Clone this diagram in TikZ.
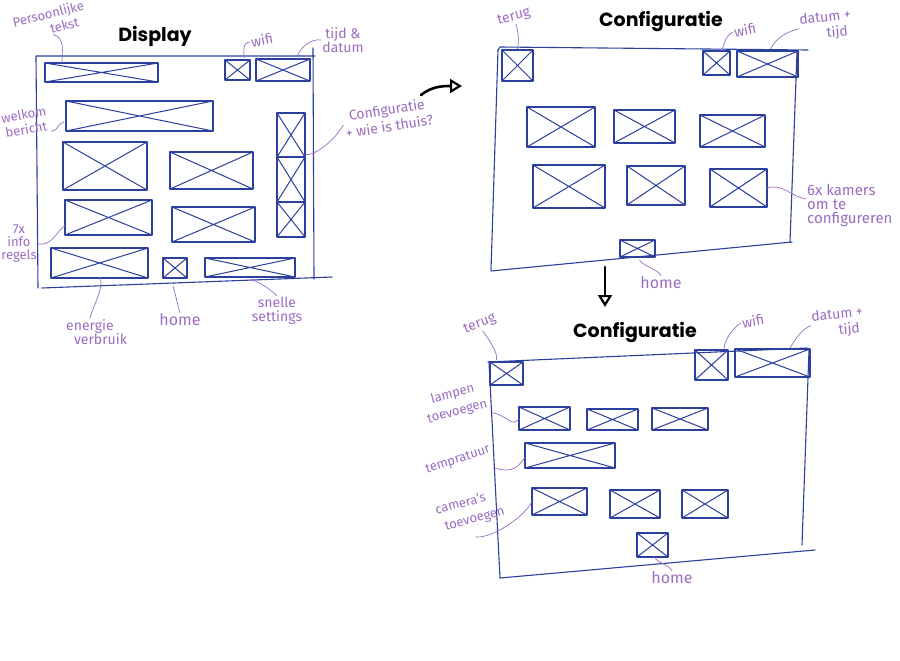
\documentclass[tikz,border=0pt]{standalone}
\usepackage{fontspec}
\setmainfont{Fira Sans}
\newfontfamily\titlefont{Poppins}
\usetikzlibrary{fit,arrows.meta,calc}
\definecolor{ink}{HTML}{2B3F9E}
\definecolor{lbl}{HTML}{9B6CC2}
\tikzset{
 sk/.style={draw=ink, line width=1.1pt, line cap=round, line join=round},
 xbox/.style={sk, rectangle, inner sep=0pt, outer sep=0pt,
   path picture={\draw[ink, line width=1pt] (path picture bounding box.south west) -- (path picture bounding box.north east) (path picture bounding box.north west) -- (path picture bounding box.south east);}},
 lab/.style={text=lbl, font=\fontsize{14}{14}\selectfont, align=center, inner sep=1pt},
 lead/.style={draw=lbl, line width=0.7pt},
 ttl/.style={font=\titlefont\bfseries\fontsize{19}{19}\selectfont, text=black},
 bigarrow/.style={draw=black, line width=2.6pt, line cap=round, -{Triangle[open,length=12pt,width=14pt,line width=2.2pt]}}
}
\newcommand\wfbox[5]{\node[xbox, fit={(#2,#3) (#4,#5)}] (#1) {};}
\begin{document}
\begin{tikzpicture}[x=1pt,y=-1pt]
\fill[white] (0,0) rectangle (900,661);
\useasboundingbox (0,0) rectangle (900,661);

% ---------------- Display ----------------
\node[ttl] (tdisp) at (155,36) {Display};
\draw[sk] (38,288) -- (36,56) -- (315,56);
\draw[sk] (313,48) -- (314,279);
\draw[sk] (42,288) -- (332,277);
\wfbox{dpt}{45}{63}{158}{82}
\wfbox{dwifi}{225}{60}{250}{80}
\wfbox{dtime}{256}{59}{310}{81}
\wfbox{dwel}{66}{101}{213}{131}
\wfbox{dra}{63}{142}{147}{190}
\wfbox{drb}{170}{152}{253}{189}
\wfbox{drc}{65}{200}{152}{235}
\wfbox{drd}{172}{207}{255}{242}
\wfbox{den}{51}{248}{148}{278}
\wfbox{dhome}{163}{258}{187}{278}
\wfbox{dset}{205}{258}{295}{277}
\wfbox{dca}{277}{113}{305}{157}
\wfbox{dcb}{277}{157}{305}{202}
\wfbox{dcc}{277}{202}{305}{237}

\node[lab, font=\fontsize{13}{15}\selectfont, rotate=14] (lpt) at (50,21) {Persoonlijke\\\hspace*{2em}tekst};
\draw[lead] (lpt.south) .. controls +(12,4) and +(0,-12) .. ($(dpt.north west)+(17,0)$);
\node[lab, rotate=10] (lwifi) at (262,40) {wifi};
\draw[lead] (lwifi.west) .. controls +(-8,0) and +(0,-6) .. ($(dwifi.north east)+(-6,-2)$);
\node[lab] (ltime) at (343,40) {tijd \&\\datum};
\draw[lead] (ltime.west) .. controls +(-10,-2) and +(0,-8) .. ($(dtime.north east)+(-12,-2)$);
\node[lab, font=\fontsize{13}{15}\selectfont, rotate=10] (lwel) at (25,122) {welkom\\bericht};
\draw[lead] (lwel.south east) .. controls +(10,-2) and +(-10,4) .. ($(dwel.west)+(-2,6)$);
\node[lab, font=\fontsize{14}{17}\selectfont, rotate=9] (lconf) at (388,118) {Configuratie\\+ wie is thuis?};
\draw[lead] (lconf.west) .. controls +(-8,14) and +(12,0) .. ($(dca.east)+(0,20)$);
\node[lab, font=\fontsize{13}{13}\selectfont] (linfo) at (19,244) {7x\\info\\regels};
\draw[lead] (linfo.east) .. controls +(14,2) and +(-10,8) .. ($(drc.west)+(0,8)$);
\node[lab] (len) at (90,332) {energie\\\hspace*{1.5em}verbruik};
\draw[lead] ($(den.south)+(1,0)$) .. controls +(3,12) and +(2,-10) .. (len.north);
\node[lab, font=\fontsize{16}{15}\selectfont] (lhome) at (180,320) {home};
\draw[lead] ($(dhome.south)+(-2,8)$) .. controls +(2,6) and +(-2,-6) .. (lhome.north);
\node[lab] (lset) at (277,311) {snelle\\settings};
\draw[lead] ($(dset.south west)+(45,2)$) .. controls +(12,4) and +(-6,-6) .. (lset.north);

% arrow to configuratie
\coordinate (a1s) at (421,95);
\coordinate (a1e) at (462,86);
\draw[bigarrow] (a1s) .. controls (432,86) and (444,86) .. (a1e);

% ---------------- Configuratie 1 ----------------
\node[ttl] (tconf1) at (661,22) {Configuratie};
\draw[sk] (498,50) -- (500,47) -- (808,50);
\draw[sk] (498,50) -- (491,270);
\draw[sk] (797,52) -- (790,242);
\draw[sk] (491,271) -- (792,242);
\wfbox{aterug}{502}{50}{533}{81}
\wfbox{awifi}{703}{51}{730}{75}
\wfbox{adate}{737}{51}{798}{77}
\wfbox{ara}{527}{107}{595}{147}
\wfbox{arb}{614}{110}{675}{143}
\wfbox{arc}{700}{115}{765}{147}
\wfbox{ard}{533}{165}{605}{208}
\wfbox{are}{627}{166}{685}{205}
\wfbox{arf}{710}{169}{767}{207}
\wfbox{ahome}{620}{240}{655}{257}

\node[lab, rotate=15] (aterugl) at (514,17) {terug};
\draw[lead] ($(aterug.north)+(0,-1)$) .. controls +(2,-8) and +(2,6) .. (aterugl.south);
\node[lab, rotate=10] (awifil) at (745,30) {wifi};
\draw[lead] ($(awifi.north east)+(-8,0)$) .. controls +(2,-8) and +(-6,2) .. (awifil.west);
\node[lab, font=\fontsize{14}{16}\selectfont, rotate=6] (adatel) at (826,26) {datum +\\\hspace*{1.5em}tijd};
\draw[lead] ($(adate.north)+(3,-2)$) .. controls +(6,-12) and +(-10,2) .. (adatel.west);
\node[lab, font=\fontsize{15}{14}\selectfont, align=left, anchor=west] (akam) at (806,205) {6x kamers\\om te\\configureren};
\draw[lead] (arf.east) .. controls +(15,-5) and +(-14,-2) .. ($(akam.west)+(0,-6)$);
\node[lab, font=\fontsize{16}{15}\selectfont] (ahomel) at (661,283) {home};
\draw[lead] ($(ahome.south)+(2,3)$) .. controls +(3,6) and +(-2,-6) .. (ahomel.north);

% arrow down
\coordinate (a2s) at (605,267);
\coordinate (a2e) at (605,307);
\draw[bigarrow] (a2s) -- (a2e);

% ---------------- Configuratie 2 ----------------
\node[ttl] (tconf2) at (635,333) {Configuratie};
\draw[sk] (488,362) -- (807,348);
\draw[sk] (489,362) -- (500,578);
\draw[sk] (809,350) -- (802,545);
\draw[sk] (500,578) -- (815,550);
\wfbox{bterug}{490}{362}{523}{385}
\wfbox{bwifi}{695}{350}{728}{380}
\wfbox{bdate}{735}{349}{810}{377}
\wfbox{bla}{519}{407}{570}{430}
\wfbox{blb}{587}{409}{638}{430}
\wfbox{blc}{652}{408}{708}{430}
\wfbox{btemp}{525}{443}{615}{468}
\wfbox{bca}{532}{488}{587}{515}
\wfbox{bcb}{610}{490}{660}{518}
\wfbox{bcc}{682}{490}{728}{518}
\wfbox{bhome}{637}{533}{668}{557}

\node[lab, rotate=22] (bterugl) at (480,324) {terug};
\draw[lead] ($(bterug.north)+(-10,-2)$) .. controls +(2,-8) and +(4,6) .. (bterugl.south);
\node[lab, rotate=10] (bwifil) at (753,321) {wifi};
\draw[lead] ($(bwifi.north east)+(-4,-1)$) .. controls +(0,-10) and +(-6,3) .. (bwifil.west);
\node[lab, font=\fontsize{14}{16}\selectfont, rotate=6] (bdatel) at (838,323) {datum +\\\hspace*{1.5em}tijd};
\draw[lead] ($(bdate.north east)+(-20,-1)$) .. controls +(6,-10) and +(-8,2) .. (bdatel.west);
\node[lab, font=\fontsize{13}{18}\selectfont, rotate=15] (blampl) at (455,403) {lampen\\toevoegen};
\draw[lead] (bla.west) .. controls +(-6,10) and +(14,2) .. ($(blampl.south east)+(2,2)$);
\node[lab, font=\fontsize{13}{15}\selectfont, rotate=18] (btempl) at (458,460) {tempratuur};
\draw[lead] ($(btemp.west)+(0,2)$) .. controls +(-10,14) and +(16,4) .. ($(btempl.south east)+(0,12)$);
\node[lab, font=\fontsize{13}{18}\selectfont, rotate=15] (bcaml) at (463,513) {camera's\\\hspace*{1.5em}toevoegen};
\draw[lead] (bca.west) .. controls +(-8,16) and +(16,2) .. ($(bcaml.south)+(8,8)$);
\node[lab, font=\fontsize{16}{15}\selectfont] (bhomel) at (672,578) {home};
\draw[lead] ($(bhome.south)+(2,0)$) .. controls +(3,6) and +(-3,-6) .. (bhomel.north);
\end{tikzpicture}
\end{document}
